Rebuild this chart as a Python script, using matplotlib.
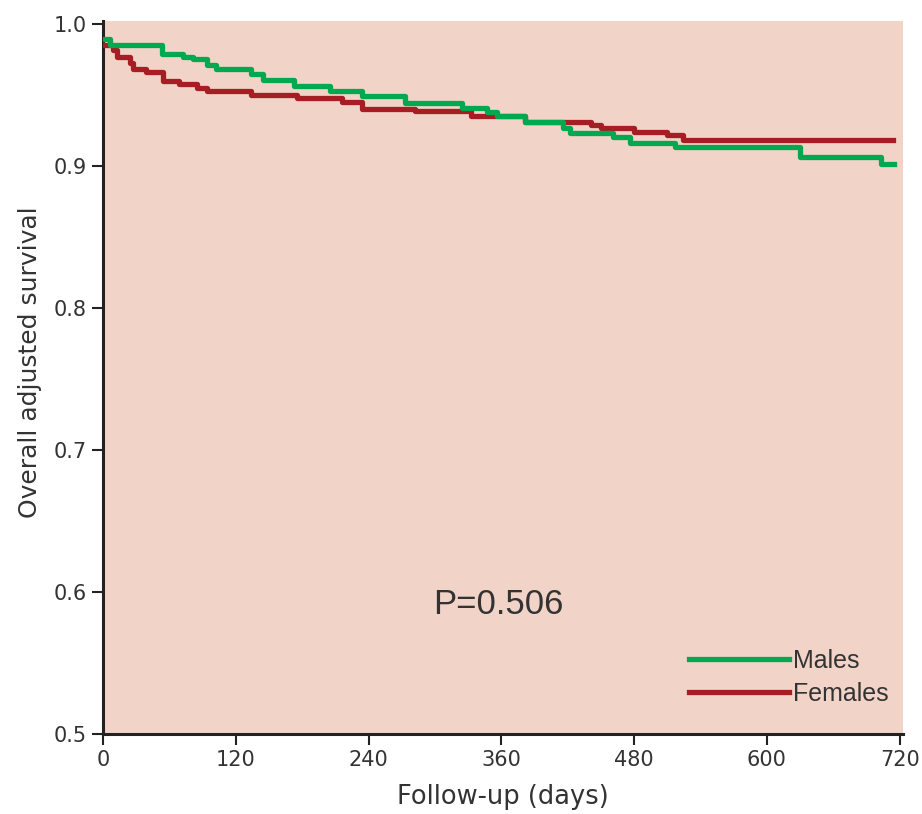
import matplotlib
matplotlib.use("Agg")
import matplotlib.pyplot as plt

# step curve data (days, survival)
male_days = [0, 6, 53, 72, 81, 94, 102, 134, 145, 173, 205, 234, 273, 324, 347, 356,
             381, 416, 422, 461, 476, 517, 630, 703, 715]
male_surv = [0.989, 0.985, 0.979, 0.977, 0.975, 0.971, 0.968, 0.965, 0.9605, 0.956, 0.9527,
             0.949, 0.9445, 0.941, 0.938, 0.935, 0.931, 0.9264, 0.9233, 0.920, 0.9163,
             0.913, 0.906, 0.9013, 0.9013]

female_days = [0, 9, 13, 24, 27, 39, 54, 69, 85, 94, 134, 175, 216, 234, 282, 333,
               381, 441, 450, 480, 510, 524, 714]
female_surv = [0.985, 0.9817, 0.977, 0.9723, 0.968, 0.9664, 0.96, 0.9575, 0.9546, 0.9527,
               0.95, 0.9476, 0.9452, 0.94, 0.9387, 0.935, 0.931, 0.9288, 0.9264, 0.924,
               0.9217, 0.918, 0.918]

x_ticks = [0, 120, 240, 360, 480, 600, 720]
y_ticks = [0.5, 0.6, 0.7, 0.8, 0.9, 1.0]
p_text = "P=0.506"

green = "#00a94f"
red = "#a61d24"
bg = "#f2d3c8"
txt = "#333333"

fig = plt.figure(figsize=(9.22, 8.14), dpi=100)
ax = fig.add_axes([0.1117, 0.0983, 0.8677, 0.8759])
ax.set_facecolor(bg)

ax.step(female_days, female_surv, where="post", color=red, lw=3.8, label="Females", zorder=3)
ax.step(male_days, male_surv, where="post", color=green, lw=3.8, label="Males", zorder=4)

ax.set_xlim(0, 723)
ax.set_ylim(0.5, 1.002)
ax.set_xticks(x_ticks)
ax.set_xticklabels([str(t) for t in x_ticks], fontsize=15, color=txt)
ax.set_yticks(y_ticks)
ax.set_yticklabels([f"{t:.1f}" for t in y_ticks], fontsize=15, color=txt)
ax.tick_params(axis="both", direction="out", length=8, width=1.5, color="#222222")

for s in ["top", "right"]:
    ax.spines[s].set_visible(False)
for s in ["left", "bottom"]:
    ax.spines[s].set_linewidth(2.2)
    ax.spines[s].set_color("#222222")

ax.set_xlabel("Follow-up (days)", fontsize=18.5, color=txt, labelpad=10)
ax.set_ylabel("Overall adjusted survival", fontsize=18, color=txt)
ax.yaxis.set_label_coords(-0.076, 0.522)

ax.text(357, 0.591, p_text, fontsize=25, color=txt, family="Liberation Sans", ha="center", va="center")

h, l = ax.get_legend_handles_labels()
leg = ax.legend(h[::-1], l[::-1], loc="lower right", bbox_to_anchor=(1.01, 0.008), frameon=False,
                handlelength=4.0, handletextpad=0.15, labelspacing=0.35,
                prop={"family": "Liberation Sans", "size": 18})
for t in leg.get_texts():
    t.set_color(txt)

fig.savefig("out.png", dpi=100)
